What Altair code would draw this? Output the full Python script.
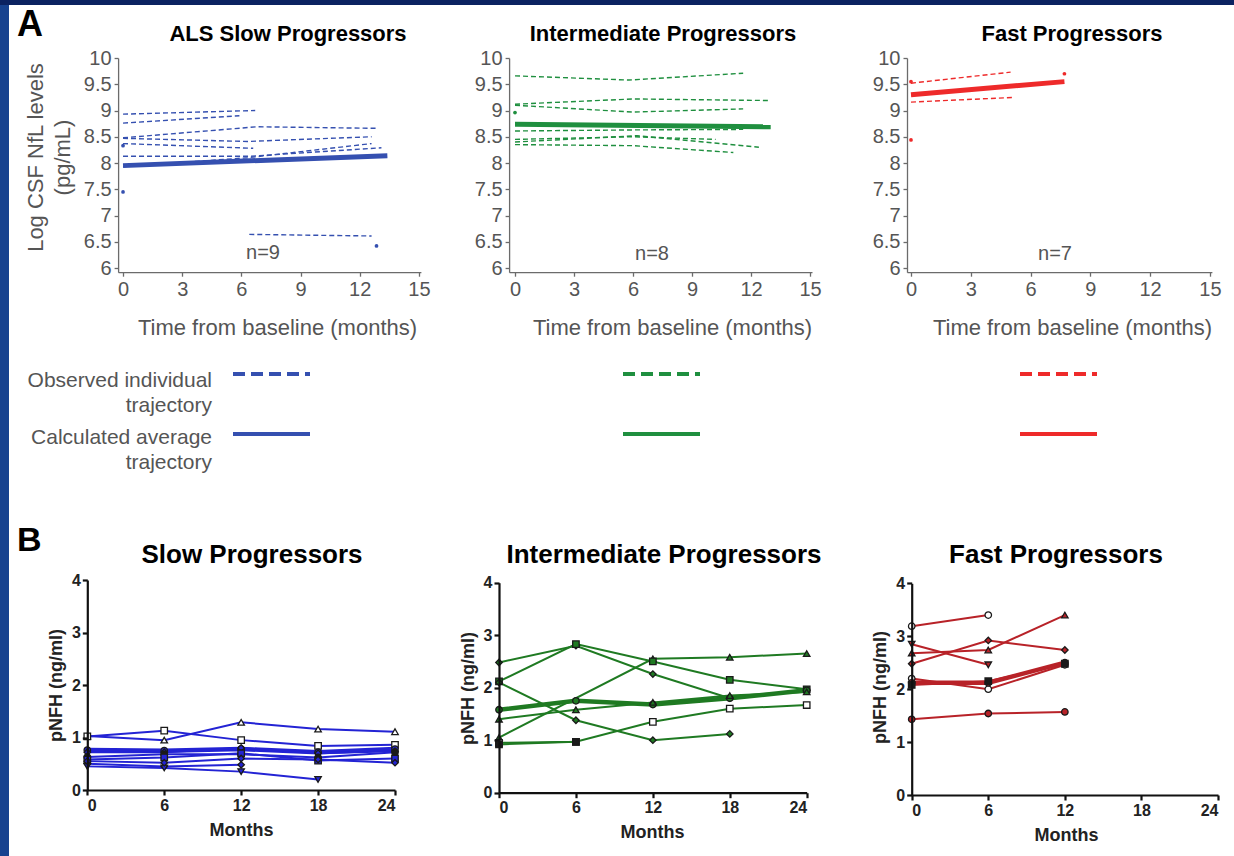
import altair as alt
import pandas as pd

W, H = 1234, 856
FONT = "Liberation Sans"
NARROW = "Liberation Sans Narrow, Liberation Sans"
GREY = "#555555"

A_BLUE, A_GREEN, A_RED = "#3550b0", "#1f8f3f", "#ee2a2a"
B_BLUE, B_GREEN, B_RED = "#2323d4", "#1f7a22", "#b82228"

# ---------------- Panel A: log CSF NfL (pg/mL) over time (months) ----------------
slow_ids = ["s1", "s1", "s2", "s2", "s3", "s3", "s3", "s4", "s4", "s4", "s5", "s5",
            "s6", "s6", "s6", "s7", "s7", "s7", "s8", "s8"]
slow_months = [0, 6.7, 0, 5.9, 0, 6.8, 12.9, 0, 6.3, 12.6, 0, 6.6,
               0, 6.5, 13.1, 0, 6.3, 12.6, 6.4, 12.6]
slow_values = [8.93, 9.00, 8.76, 8.90, 8.48, 8.69, 8.66, 8.47, 8.41, 8.50, 8.37, 8.28,
               8.13, 8.13, 8.29, 7.93, 8.10, 8.37, 6.64, 6.61]
slow_single_months = [0, 0, 12.85]
slow_single_values = [7.45, 8.33, 6.42]
slow_avg_months = [0, 13.4]
slow_avg_values = [7.95, 8.14]

inter_ids = ["i1", "i1", "i1", "i2", "i2", "i2", "i3", "i3", "i3", "i4", "i4", "i4",
             "i5", "i5", "i5", "i6", "i6", "i6", "i7", "i7", "i7"]
inter_months = [0, 5.8, 11.6, 0, 6.0, 12.9, 0, 6.0, 11.6, 0, 6.0, 11.6,
                0, 6.0, 10.2, 0, 6.2, 12.4, 0, 6.0, 11.1]
inter_values = [9.66, 9.58, 9.71, 9.12, 9.22, 9.19, 9.10, 8.97, 9.03, 8.61, 8.63, 8.64,
                8.45, 8.50, 8.45, 8.40, 8.52, 8.30, 8.35, 8.33, 8.20]
inter_single_months = [0]
inter_single_values = [8.96]
inter_avg_months = [0, 13.0]
inter_avg_values = [8.74, 8.69]

fast_ids = ["f1", "f1", "f2", "f2"]
fast_months = [0, 5.0, 0, 5.2]
fast_values = [9.52, 9.73, 9.16, 9.25]
fast_single_months = [0, 0, 7.7]
fast_single_values = [8.44, 9.55, 9.70]
fast_avg_months = [0, 7.7]
fast_avg_values = [9.30, 9.55]

# ---------------- Panel B: pNFH (ng/ml) over time (months) ----------------
bslow_ids = (["p1"] * 5 + ["p2"] * 5 + ["p3"] * 5 + ["p4"] * 5 + ["p5"] * 5
             + ["p6"] * 5 + ["p7"] * 3 + ["p8"] * 4 + ["p9"] * 5)
bslow_months = ([0, 6, 12, 18, 24] * 6 + [0, 6, 12] + [0, 6, 12, 18] + [0, 6, 12, 18, 24])
bslow_values = [1.03, 0.95, 1.29, 1.16, 1.11,
                1.02, 1.13, 0.95, 0.84, 0.86,
                0.76, 0.75, 0.78, 0.72, 0.78,
                0.72, 0.72, 0.80, 0.70, 0.74,
                0.63, 0.68, 0.68, 0.62, 0.72,
                0.58, 0.62, 0.70, 0.56, 0.60,
                0.50, 0.45, 0.48,
                0.45, 0.42, 0.35, 0.20,
                0.55, 0.52, 0.60, 0.58, 0.52]
bslow_marker = {"p1": "triangle-up", "p2": "square", "p3": "circle", "p4": "diamond",
                "p5": "circle", "p6": "square", "p7": "diamond", "p8": "triangle-down",
                "p9": "diamond"}
bslow_open = ["p1", "p2"]
bslow_dark = ["p5"]
bslow_thick = ["p3"]

binter_ids = (["g1"] * 4 + ["g2"] * 5 + ["g3"] * 5 + ["g4"] * 4 + ["g5"] * 5
              + ["g6"] * 5 + ["g7"] * 5 + ["g8"] * 2)
binter_months = ([0, 12, 18, 24] + [0, 6, 12, 18, 24] * 2 + [0, 6, 12, 18]
                 + [0, 6, 12, 18, 24] * 3 + [0, 6])
binter_values = [1.05, 2.55, 2.58, 2.65,
                 2.48, 2.80, 2.26, 1.80, 1.95,
                 2.12, 2.83, 2.50, 2.15, 1.97,
                 2.10, 1.38, 1.00, 1.12,
                 1.58, 1.75, 1.68, 1.80, 1.95,
                 1.40, 1.58, 1.72, 1.85, 1.92,
                 0.95, 0.97, 1.35, 1.60, 1.67,
                 0.92, 0.97]
binter_marker = {"g1": "triangle-up", "g2": "diamond", "g3": "square", "g4": "diamond",
                 "g5": "circle", "g6": "triangle-up", "g7": "square", "g8": "square"}
binter_open = ["g7"]
binter_dark = ["g8"]
binter_thick = ["g5"]

bfast_ids = (["r1"] * 2 + ["r2"] * 3 + ["r3"] * 3 + ["r4"] * 2 + ["r5"] * 3
             + ["r6"] * 3 + ["r7"] * 3 + ["r8"] * 3)
bfast_months = ([0, 6] + [0, 6, 12] * 2 + [0, 6] + [0, 6, 12] * 4)
bfast_values = [3.19, 3.40,
                2.68, 2.74, 3.40,
                2.48, 2.92, 2.74,
                2.85, 2.46,
                2.20, 2.00, 2.46,
                2.12, 2.12, 2.50,
                2.08, 2.15, 2.48,
                1.43, 1.54, 1.57]
bfast_marker = {"r1": "circle", "r2": "triangle-up", "r3": "diamond", "r4": "triangle-down",
                "r5": "circle", "r6": "circle", "r7": "square", "r8": "circle"}
bfast_open = ["r1", "r5"]
bfast_dark = ["r7"]
bfast_thick = ["r6"]


def frame(ids, months, values):
    return pd.DataFrame({"id": ids, "month": months, "value": values})


def points(months, values):
    return pd.DataFrame({"month": months, "value": values})


# ---------------- shared axis styling ----------------
A_Y_DOMAIN, A_Y_RANGE = [5.92, 10], [272.2, 58]

a_axis_style = dict(grid=False, zindex=2, domainColor="#6b6b6b", domainWidth=1.3,
                    tickColor="#6b6b6b", tickWidth=1.3, tickSize=4, labelColor=GREY,
                    labelFont=FONT, labelFontSize=20, labelPadding=3, labelOverlap=False,
                    titleColor=GREY, titleFont=FONT, titleFontSize=22,
                    titleFontWeight="normal")

b_axis_style = dict(grid=False, zindex=2, domainColor="#111111", domainWidth=2.2,
                    tickColor="#111111", tickWidth=2.2, tickSize=5, labelColor="#222222",
                    labelFont=FONT, labelFontSize=16, labelFontWeight="bold", labelPadding=2,
                    labelOverlap=False, titleColor="#222222", titleFont=FONT,
                    titleFontSize=18, titleFontWeight="bold")


def panel_a(ind, single, avg, color, x_dom, x_rng, title_x, y_title):
    xenc = alt.X("month:Q",
                 scale=alt.Scale(domain=x_dom, range=x_rng, nice=False, zero=False),
                 axis=alt.Axis(orient="bottom", offset=A_Y_RANGE[0] - H,
                               values=[0, 3, 6, 9, 12, 15],
                               title="Time from baseline (months)", titleX=title_x,
                               titleY=55, titleAlign="center", titleBaseline="middle",
                               **a_axis_style))
    yenc = alt.Y("value:Q",
                 scale=alt.Scale(domain=A_Y_DOMAIN, range=A_Y_RANGE, nice=False, zero=False),
                 axis=alt.Axis(orient="left", offset=-x_rng[0],
                               values=[6, 6.5, 7, 7.5, 8, 8.5, 9, 9.5, 10], format="~g",
                               title=y_title, titleAngle=270, titleX=-83, titleY=157,
                               titleAlign="center", titleBaseline="middle",
                               titleLineHeight=27, **a_axis_style))
    lines = alt.Chart(ind).mark_line(color=color, strokeWidth=1.4, strokeDash=[5, 3]).encode(
        x=xenc, y=yenc, detail="id:N")
    mean = alt.Chart(avg).mark_line(color=color, strokeWidth=5).encode(x=xenc, y=yenc)
    dots = alt.Chart(single).mark_point(filled=True, color=color, size=14, opacity=1).encode(
        x=xenc, y=yenc)
    return alt.layer(lines, mean, dots)


def b_frame(ids, months, values, marker, open_ids, dark_ids, thick_ids, color):
    df = frame(ids, months, values)
    df["shape"] = df["id"].map(marker)
    df["fill"] = [("white" if i in open_ids else "#1a1a1a" if i in dark_ids else color)
                  for i in df["id"]]
    df["width"] = [4.5 if i in thick_ids else 2.0 for i in df["id"]]
    return df


def panel_b(df, color, x_rng, y_rng, title_x, ytitle_y):
    xenc = alt.X("month:Q",
                 scale=alt.Scale(domain=[0, 24], range=x_rng, nice=False, zero=False),
                 axis=alt.Axis(orient="bottom", offset=y_rng[0] - H,
                               values=[0, 6, 12, 18, 24], title="Months", titleX=title_x,
                               titleY=40, titleAlign="center", titleBaseline="middle",
                               **b_axis_style))
    yenc = alt.Y("value:Q",
                 scale=alt.Scale(domain=[0, 4], range=y_rng, nice=False, zero=False),
                 axis=alt.Axis(orient="left", offset=-x_rng[0], values=[0, 1, 2, 3, 4],
                               title="pNFH (ng/ml)", titleAngle=270, titleX=-31,
                               titleY=ytitle_y, titleAlign="center", titleBaseline="middle",
                               **b_axis_style))
    lines = alt.Chart(df).mark_line(color=color).encode(
        x=xenc, y=yenc, detail="id:N",
        strokeWidth=alt.StrokeWidth("width:Q", scale=None))
    marks = alt.Chart(df).mark_point(filled=True, size=42, opacity=1, strokeWidth=1.3).encode(
        x=xenc, y=yenc,
        shape=alt.Shape("shape:N", scale=None),
        fill=alt.Fill("fill:N", scale=None),
        stroke=alt.value("#1a1a1a"))
    return alt.layer(lines, marks)


ONE = alt.Data(values=[{}])


def label(text, x, y, size, color="#000000", weight="normal", align="center",
          font=FONT, line_height=None):
    props = dict(text=text, fontSize=size, color=color, fontWeight=weight, align=align,
                 baseline="middle", font=font)
    if line_height:
        props["lineHeight"] = line_height
    return alt.Chart(ONE).mark_text(**props).encode(x=alt.value(x), y=alt.value(y))


def sample(x0, x1, y, color, dashed):
    props = dict(color=color, strokeWidth=4)
    if dashed:
        props["strokeDash"] = [12, 6]
    return alt.Chart(ONE).mark_rule(**props).encode(
        x=alt.value(x0), x2=alt.value(x1), y=alt.value(y))


# white figure sheet on the blue slide
sheet = alt.Chart(ONE).mark_rect(color="white").encode(
    x=alt.value(9), x2=alt.value(W), y=alt.value(5), y2=alt.value(H))
top_band = alt.Chart(ONE).mark_rect(color="#0b2261").encode(
    x=alt.value(0), x2=alt.value(W), y=alt.value(0), y2=alt.value(5))

a_slow = panel_a(frame(slow_ids, slow_months, slow_values),
                 points(slow_single_months, slow_single_values),
                 points(slow_avg_months, slow_avg_values),
                 A_BLUE, [-0.25, 15.1], [118.1, 420.9], 277,
                 ["Log CSF NfL levels", "(pg/mL)"])
a_inter = panel_a(frame(inter_ids, inter_months, inter_values),
                  points(inter_single_months, inter_single_values),
                  points(inter_avg_months, inter_avg_values),
                  A_GREEN, [-0.3, 15.1], [509.1, 812.0], 672, None)
a_fast = panel_a(frame(fast_ids, fast_months, fast_values),
                 points(fast_single_months, fast_single_values),
                 points(fast_avg_months, fast_avg_values),
                 A_RED, [-0.2, 15.1], [907.0, 1211.9], 1072, None)

b_slow = panel_b(b_frame(bslow_ids, bslow_months, bslow_values, bslow_marker,
                         bslow_open, bslow_dark, bslow_thick, B_BLUE),
                 B_BLUE, [87.3, 395], [790, 580], 241, 685)
b_inter = panel_b(b_frame(binter_ids, binter_months, binter_values, binter_marker,
                          binter_open, binter_dark, binter_thick, B_GREEN),
                  B_GREEN, [499, 806.7], [792.7, 582.7], 652, 688)
b_fast = panel_b(b_frame(bfast_ids, bfast_months, bfast_values, bfast_marker,
                         bfast_open, bfast_dark, bfast_thick, B_RED),
                 B_RED, [911.7, 1218], [795, 583.3], 1066, 687)

texts = [
    label("A", 17, 25, 36, weight="bold", align="left"),
    label("B", 17, 541, 34, weight="bold", align="left"),
    label("ALS Slow Progressors", 288, 34, 22, weight="bold"),
    label("Intermediate Progressors", 663, 34, 22, weight="bold"),
    label("Fast Progressors", 1072, 34, 22, weight="bold"),
    label("n=9", 263, 253, 20, color=GREY),
    label("n=8", 652, 254, 20, color=GREY),
    label("n=7", 1055, 254, 20, color=GREY),
    label(["Observed individual", "trajectory"], 212, 381, 21, color=GREY, align="right",
          font=NARROW, line_height=25),
    label(["Calculated average", "trajectory"], 212, 438, 21, color=GREY, align="right",
          font=NARROW, line_height=25),
    label("Slow Progressors", 252, 555, 26, weight="bold"),
    label("Intermediate Progressors", 664, 555, 26, weight="bold"),
    label("Fast Progressors", 1056, 555, 26, weight="bold"),
]
samples = [
    sample(233, 310, 374, A_BLUE, True), sample(233, 310, 434, A_BLUE, False),
    sample(623, 700, 374, A_GREEN, True), sample(623, 700, 434, A_GREEN, False),
    sample(1020, 1097, 374, A_RED, True), sample(1020, 1097, 434, A_RED, False),
]

chart = alt.layer(
    sheet, top_band, a_slow, a_inter, a_fast, b_slow, b_inter, b_fast, *texts, *samples
).resolve_scale(
    x="independent", y="independent"
).properties(
    width=W, height=H, autosize=alt.AutoSizeParams(type="none"), padding=0,
    background="#17428f"
).configure_view(strokeWidth=0)

chart.save("out.html", embed_options={"renderer": "svg", "actions": False})
